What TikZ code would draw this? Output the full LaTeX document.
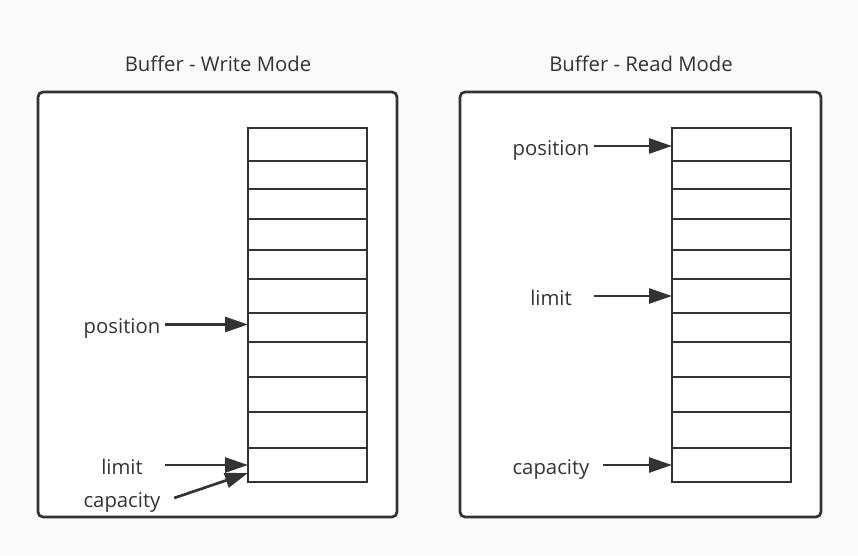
\documentclass[tikz,border=0pt]{standalone}
\usepackage{fontspec}
\setmainfont{Open Sans}
\usetikzlibrary{arrows.meta}
\definecolor{ink}{HTML}{333333}
\definecolor{paper}{HTML}{FAFAFA}

\tikzset{
    panel/.style={draw=ink, line width=2.7pt, rounded corners=5pt, fill=white},
    cell/.style={draw=ink, line width=2.7pt, minimum width=119pt, inner sep=0pt, outer sep=0pt, anchor=north west},
    label/.style={text=ink, minimum width=86pt, inner sep=0pt, text height=22pt, text depth=4pt,
        font=\fontsize{20.3}{24}\selectfont},
    arr/.style={draw=ink, line width=2.7pt, -{Triangle[length=23pt,width=15pt]}},
}

\begin{document}
\begin{tikzpicture}[x=1pt,y=-1pt]
\path[use as bounding box, fill=paper] (0,0) rectangle (858,555);

    % Buffer - Write Mode
\node[label] (wtitle) at (218,62) {Buffer - Write Mode};
\draw[panel] (38,92) rectangle (397,517);
\foreach \ya/\yb [count=\i] in {128/161,161/189,189/219,219/250,250/279,279/313,313/342,342/377,377/412,412/448,448/482}
    \node[cell, minimum height=\yb pt-\ya pt] (W\i) at (248,\ya) {};
\node[label] (wpos) at (122,324.5) {position};
\node[label] (wlim) at (122,465) {limit};
\node[label] (wcap) at (122,498) {capacity};
\draw[arr] (wpos.east) -- (wpos.east -| W7.west);
\draw[arr] (wlim.east) -- (W11.west);
\draw[arr] ([xshift=9pt]wcap.east) -- ([yshift=-8pt]W11.west);

    % Buffer - Read Mode
\node[label] (rtitle) at (641,62) {Buffer - Read Mode};
\draw[panel] (460,92) rectangle (821,517);
\foreach \ya/\yb [count=\i] in {128/161,161/189,189/219,219/250,250/279,279/313,313/342,342/377,377/412,412/448,448/482}
    \node[cell, minimum height=\yb pt-\ya pt] (R\i) at (672,\ya) {};
\node[label] (rpos) at (551,146) {position};
\node[label] (rlim) at (551,296) {limit};
\node[label] (rcap) at (551,465) {capacity};
\draw[arr] (rpos.east) -- (rpos.east -| R1.west);
\draw[arr] (rlim.east) -- (R6.west);
\draw[arr] ([xshift=9pt]rcap.east) -- (R11.west);

\end{tikzpicture}
\end{document}
